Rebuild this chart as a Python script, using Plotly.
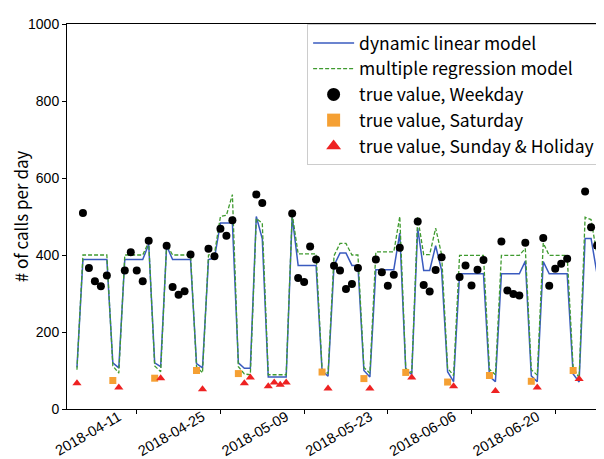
import pandas as pd
import plotly.graph_objects as go

dates = pd.date_range("2018-04-01", periods=90, freq="D")

# day type: W = weekday, S = Saturday, H = Sunday & holiday
day_type = (["H"] + ["W"] * 5 + ["S", "H"] + ["W"] * 5 + ["S", "H"] + ["W"] * 5 + ["S", "H"]
            + ["W"] * 5 + ["S", "H", "H", "W", "W", "H", "H", "H", "H"]
            + ["W"] * 5 + ["S", "H"] + ["W"] * 5 + ["S", "H"] + ["W"] * 5 + ["S", "H"]
            + ["W"] * 5 + ["S", "H"] + ["W"] * 5 + ["S", "H"] + ["W"] * 5 + ["S", "H"]
            + ["W"] * 5 + ["S", "H"] + ["W"] * 5)

true_value = [67, 509, 366, 332, 319, 347, 74, 56, 360, 407, 360, 332, 437, 80, 80,
              424, 317, 297, 306, 401, 100, 51, 416, 397, 468, 450, 490, 92, 67, 82,
              557, 535, 59, 69, 63, 69, 508, 340, 330, 422, 388, 96, 53, 372, 360,
              312, 325, 366, 79, 53, 388, 355, 320, 349, 419, 95, 82, 487, 322, 305,
              361, 394, 70, 59, 343, 373, 321, 362, 387, 87, 47, 435, 308, 299, 295,
              432, 72, 56, 444, 320, 364, 377, 390, 100, 78, 565, 472, 425, 358, 482]

dlm = [108, 388, 388, 388, 388, 388, 120, 107, 388, 388, 388, 388, 428, 120, 110,
       424, 388, 388, 388, 388, 118, 107, 388, 392, 483, 483, 483, 120, 106, 106,
       500, 442, 83, 83, 83, 83, 500, 373, 373, 373, 373, 100, 85, 373, 405,
       405, 373, 373, 100, 83, 362, 362, 362, 362, 457, 102, 90, 470, 360, 360,
       424, 360, 97, 71, 351, 351, 351, 351, 351, 85, 71, 351, 351, 351, 351,
       384, 86, 71, 383, 351, 351, 351, 351, 91, 70, 443, 443, 351, 351, 422]

mrm = [102, 400, 400, 400, 400, 400, 112, 93, 400, 400, 400, 400, 434, 112, 97,
       428, 400, 400, 400, 400, 110, 94, 400, 403, 500, 503, 557, 110, 91, 89,
       495, 483, 89, 89, 89, 89, 507, 403, 403, 403, 403, 104, 92, 398, 430,
       430, 400, 400, 108, 93, 408, 408, 408, 408, 500, 105, 94, 498, 401, 401,
       470, 401, 106, 87, 399, 399, 399, 399, 399, 103, 89, 399, 399, 399, 399,
       417, 102, 88, 431, 399, 399, 399, 399, 108, 81, 498, 492, 400, 400, 468]

tick_labels = ["2018-04-11", "2018-04-25", "2018-05-09", "2018-05-23", "2018-06-06", "2018-06-20"]
y_ticks = [0, 200, 400, 600, 800, 1000]

df = pd.DataFrame({"date": dates, "type": day_type, "value": true_value})

BLUE = "#3a5bbf"
GREEN = "#3f9a2f"
ORANGE = "#f5a033"
RED = "#ee2222"
FONT = "Noto Sans CJK JP"
TICKFONT = "Liberation Sans, Arial"

fig = go.Figure()
fig.add_trace(go.Scatter(x=dates, y=dlm, mode="lines", line=dict(color=BLUE, width=1.5),
                         name="dynamic linear model"))
fig.add_trace(go.Scatter(x=dates, y=mrm, mode="lines", line=dict(color=GREEN, width=1.3, dash="4px,2px"),
                         name="multiple regression model"))

groups = [("W", "circle", "black", 8, "true value, Weekday"),
          ("S", "square", ORANGE, 7, "true value, Saturday"),
          ("H", "triangle-up", RED, 8, "true value, Sunday & Holiday")]
for code, sym, col, size, label in groups:
    sub = df[df["type"] == code]
    fig.add_trace(go.Scatter(x=sub["date"], y=sub["value"], mode="markers",
                             marker=dict(symbol=sym, color=col, size=size, line=dict(width=0)),
                             name=label, showlegend=False))
    fig.add_trace(go.Scatter(x=[None], y=[None], mode="markers",
                             marker=dict(symbol=sym, color=col, size=13, line=dict(width=0)),
                             name=label, showlegend=True))

fig.update_layout(
    width=604, height=459,
    margin=dict(l=58, r=0, t=16, b=58),
    paper_bgcolor="white", plot_bgcolor="white",
    font=dict(family=TICKFONT, size=14, color="black"),
    showlegend=True,
    legend=dict(x=0.98, xanchor="right", y=1.0, yanchor="top",
                bgcolor="rgba(255,255,255,0.85)", bordercolor="#cccccc", borderwidth=1,
                font=dict(family=FONT, size=17.5, color="black"),
                itemsizing="trace", itemwidth=41, tracegroupgap=0),
)
fig.update_xaxes(
    type="date",
    range=[pd.Timestamp("2018-04-01") - pd.Timedelta(hours=40),
           pd.Timestamp("2018-06-29") + pd.Timedelta(hours=8)],
    tickmode="array", tickvals=tick_labels, ticktext=tick_labels, tickangle=-30,
    ticks="outside", ticklen=4, tickcolor="black",
    ticklabelstandoff=-11, ticklabelshift=-18,
    showline=True, linecolor="black", linewidth=1, mirror=True,
    showgrid=False, zeroline=False,
    tickfont=dict(family=TICKFONT, size=14.5),
)
fig.update_yaxes(
    range=[0, 1000], tickmode="array", tickvals=y_ticks,
    ticks="outside", ticklen=4, tickcolor="black",
    showline=True, linecolor="black", linewidth=1, mirror=True,
    showgrid=False, zeroline=False,
    title=dict(text="# of calls per day", font=dict(family=FONT, size=17), standoff=8),
    tickfont=dict(family=TICKFONT, size=14),
)

fig.write_html("out.html")
